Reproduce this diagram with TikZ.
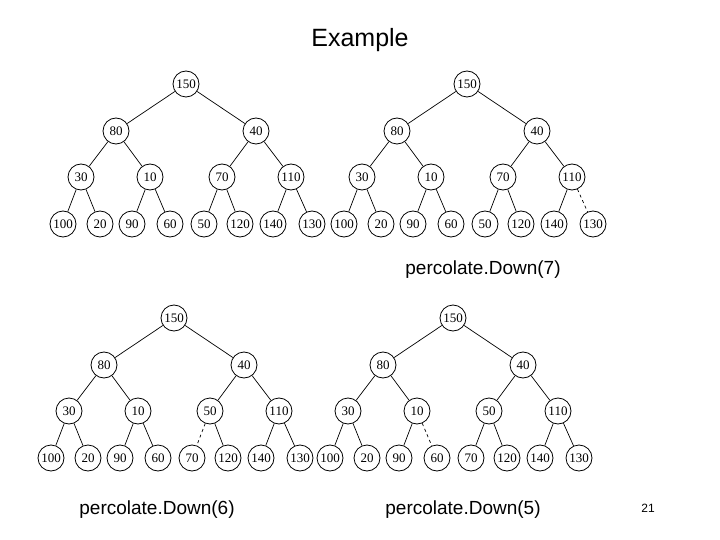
\documentclass[tikz,border=0pt]{standalone}
\usepackage{fontspec}
\setmainfont{Liberation Serif}
\newfontfamily\arialf{Liberation Sans}
\begin{document}
\begin{tikzpicture}[x=1pt,y=-1pt,
  hn/.style={circle,draw,line width=0.8pt,minimum size=26pt,inner sep=0pt,font=\fontsize{13}{13}\selectfont},
  ed/.style={line width=0.7pt},
  lbl/.style={font=\arialf\fontsize{19}{19}\selectfont}]
\useasboundingbox (0,0) rectangle (720,540);
\newcommand{\heap}[5]{%
  \foreach \v [count=\i] in {#4}{%
    \pgfmathsetmacro\dx{{0,-70,70,-105,-36,36,105,-123,-86,-54,-16,18,54,87,126}[\i-1]}%
    \pgfmathsetmacro\dy{{0,47,47,93,93,93,93,140,140,140,140,140,140,140,140}[\i-1]}%
    \node[hn] (#1\i) at (#2+\dx,#3+\dy) {\v};
  }%
  \foreach \i in {2,...,15}{%
    \pgfmathtruncatemacro\p{floor(\i/2)}%
    \ifnum\i=#5\relax
      \draw[ed,dashed] (#1\p) -- (#1\i);
    \else
      \draw[ed] (#1\p) -- (#1\i);
    \fi
  }%
}
\heap{a}{186}{84}{150,80,40,30,10,70,110,100,20,90,60,50,120,140,130}{0}
\heap{b}{467}{84}{150,80,40,30,10,70,110,100,20,90,60,50,120,140,130}{15}
\heap{c}{174}{318}{150,80,40,30,10,50,110,100,20,90,60,70,120,140,130}{12}
\heap{d}{453}{318}{150,80,40,30,10,50,110,100,20,90,60,70,120,140,130}{11}
\node[font=\arialf\fontsize{25}{25}\selectfont] (title) at (360,40) {Example};
\node[lbl] (l7) at (483,270) {percolate.Down(7)};
\node[lbl] (l6) at (157,510) {percolate.Down(6)};
\node[lbl] (l5) at (463,510) {percolate.Down(5)};
\node[font=\arialf\fontsize{12}{12}\selectfont] (pg) at (648,508) {21};
\end{tikzpicture}
\end{document}
